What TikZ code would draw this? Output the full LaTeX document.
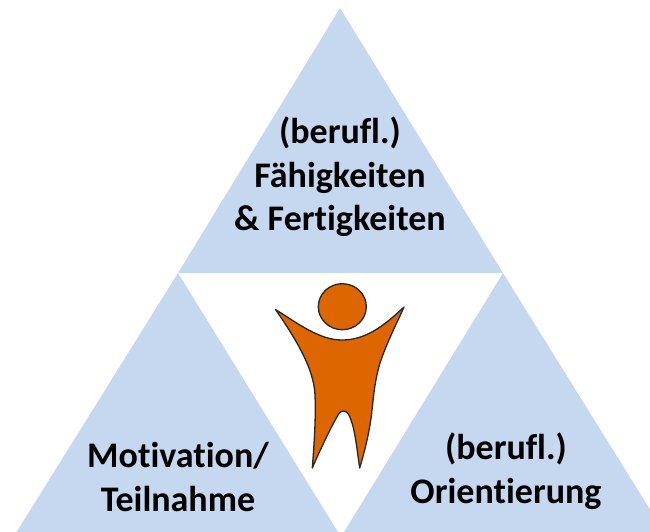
\documentclass[tikz,border=0pt]{standalone}
\usepackage{fontspec}
\setmainfont[Ligatures=CommonOff]{Carlito}
\tikzset{
  tri/.style={fill=triblue,draw=none},
  lab/.style={font=\fontsize{36}{43.5}\selectfont\bfseries,align=center,text=black,inner sep=0pt},
  figure part/.style={fill=figorange,draw=black!85,line width=1.3pt,line join=round}
}
\definecolor{triblue}{HTML}{C6D8F0}
\definecolor{figorange}{HTML}{DE6600}
\begin{document}
\begin{tikzpicture}[x=1pt,y=-1pt]
\useasboundingbox (0,0) rectangle (650,532);
\clip (0,0) rectangle (650,532);
\fill[tri] (340,8) -- (503,273) -- (178,273) -- cycle;
\fill[tri] (178,273) -- (338,532) -- (16.5,532) -- cycle;
\fill[tri] (503,273) -- (664,532) -- (344,532) -- cycle;
\draw[figure part] (342.3,306.7) ellipse [x radius=24,y radius=23];
\draw[figure part] (275.5,309.5)
  .. controls (300,325) and (320,340) .. (342,340)
  .. controls (364,340) and (382,328) .. (404,307)
  .. controls (396,325) and (387,342) .. (380,363)
  .. controls (375,380) and (374,392) .. (372,410)
  .. controls (370,430) and (365,450) .. (359.7,468)
  .. controls (357,450) and (355,430) .. (351,420)
  .. controls (348,410) and (342,408) .. (338,415)
  .. controls (331,427) and (320,450) .. (312.3,468)
  .. controls (314,445) and (316,420) .. (315,395)
  .. controls (314,370) and (298,342) .. (275.5,309.5) -- cycle;
\node[lab] (skills) at (340,177) {(berufl.)\\Fähigkeiten\\\& Fertigkeiten};
\node[lab] (motivation) at (178,477) {Motivation/\\Teilnahme};
\node[lab] (orientation) at (506,471) {(berufl.)\\Orientierung};
\end{tikzpicture}
\end{document}
